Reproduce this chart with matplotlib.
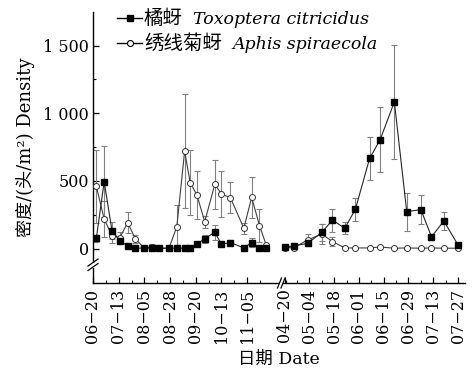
import matplotlib
matplotlib.use('Agg')
import matplotlib.pyplot as plt
from matplotlib.lines import Line2D
from matplotlib.patches import Rectangle
from datetime import date

plt.rcParams['font.family'] = ['DejaVu Serif', 'Noto Sans CJK SC']

# ---------------- data ----------------
dates_y1 = ['06-23', '06-30', '07-07', '07-14', '07-21', '07-28', '08-05', '08-12', '08-18',
            '08-27', '09-03', '09-10', '09-15', '09-21', '09-28', '10-07', '10-13', '10-21',
            '11-02', '11-09', '11-16', '11-22']
tc_y1 = [77, 495, 133, 59, 20, 5, 3, 3, 3, 3, 3, 3, 3, 32, 74, 121, 32, 45, 5, 45, 5, 5]
tc_y1_err = [25, 260, 60, 20, 8, 2, 1, 1, 1, 1, 1, 1, 1, 10, 30, 55, 15, 20, 5, 30, 5, 5]
as_y1 = [460, 219, 95, 81, 192, 71, 3, 15, 3, 3, 162, 720, 487, 396, 199, 475, 403, 376, 150, 379, 170, 27]
as_y1_err = [270, 130, 50, 40, 80, 30, 2, 20, 5, 2, 160, 420, 240, 180, 45, 180, 170, 115, 40, 150, 120, 10]

dates_y2 = ['04-20', '04-25', '05-03', '05-11', '05-17', '05-24', '05-30', '06-07', '06-13',
            '06-21', '06-28', '07-06', '07-12', '07-19', '07-27']
tc_y2 = [10, 20, 39, 120, 211, 150, 292, 666, 806, 1084, 273, 288, 88, 204, 27]
tc_y2_err = [3, 8, 15, 65, 85, 45, 85, 160, 240, 420, 140, 105, 20, 70, 5]
as_y2 = [7, 7, 64, 108, 52, 5, 5, 5, 12, 3, 5, 3, 5, 3, 3]
as_y2_err = [3, 3, 45, 75, 33, 3, 3, 3, 8, 2, 5, 2, 5, 2, 2]

ticks_y1 = ['06-20', '07-13', '08-05', '08-28', '09-20', '10-13', '11-05']
ticks_y2 = ['04-20', '05-04', '05-18', '06-01', '06-15', '06-29', '07-13', '07-27']

yticks = [0, 500, 1000, 1500]
ytick_labels = ['0', '500', '1 000', '1 500']

names_cn = ['橘蚜', '绣线菊蚜']
names_lat = ['Toxoptera citricidus', 'Aphis spiraecola']

# ---------------- broken date scale ----------------
S1 = 25.7 / 23.0      # axis units per day, first season
S2 = 24.76 / 14.0     # axis units per day, second season
X2 = 191.7            # start of second season on axis


def days(md, ref):
    m, d = map(int, md.split('-'))
    rm, rd = map(int, ref.split('-'))
    return (date(2001, m, d) - date(2001, rm, rd)).days


def pos1(md):
    return days(md, '06-20') * S1


def pos2(md):
    return X2 + days(md, '04-20') * S2


x1 = [pos1(d) for d in dates_y1]
x2 = [pos2(d) for d in dates_y2]

W, H = 475, 374
fig = plt.figure(figsize=(W / 100, H / 100), dpi=100)
ax = fig.add_axes([93 / W, 1 - 283 / H, 372 / W, (283 - 12) / H])

ecol = '0.5'
for xs, tc, tce, asv, ase in [(x1, tc_y1, tc_y1_err, as_y1, as_y1_err),
                               (x2, tc_y2, tc_y2_err, as_y2, as_y2_err)]:
    ax.errorbar(xs, asv, yerr=ase, fmt='none', ecolor=ecol, elinewidth=0.8,
                capsize=2.5, capthick=0.8, zorder=2)
    ax.errorbar(xs, tc, yerr=tce, fmt='none', ecolor=ecol, elinewidth=0.8,
                capsize=2.5, capthick=0.8, zorder=2)
    ax.plot(xs, asv, '-', color='0.25', lw=0.8, marker='o', ms=4.3,
            mfc='white', mec='0.2', mew=0.7, zorder=3)
    ax.plot(xs, tc, '-', color='0.15', lw=0.8, marker='s', ms=4.0,
            mfc='black', mec='black', zorder=4)

ax.set_xlim(0, 372)
ax.set_ylim(-254, 1748)

# x ticks
major = [pos1(d) for d in ticks_y1] + [pos2(d) for d in ticks_y2]
labels = [t.replace('-', '\u2212') for t in ticks_y1 + ticks_y2]
ax.set_xticks(major)
ax.set_xticklabels(labels, rotation=90, fontsize=11.5)
minor = [pos1('06-20') + (i + 0.5) * 23 * S1 for i in range(8)]
minor += [pos2('04-20') + (i + 0.5) * 14 * S2 for i in range(7)]
ax.set_xticks(minor, minor=True)

ax.set_yticks(yticks)
ax.set_yticklabels(ytick_labels, fontsize=11.5)
ax.set_yticks([250, 750, 1250], minor=True)

ax.tick_params(which='major', direction='in', length=4.5, width=0.9, pad=3)
ax.tick_params(which='minor', direction='in', length=2.5, width=0.8)
ax.tick_params(axis='x', which='major', pad=4)

for s in ['top', 'right']:
    ax.spines[s].set_visible(False)
for s in ['left', 'bottom']:
    ax.spines[s].set_linewidth(1.0)

ax.set_xlabel('日期 Date', fontsize=12.5, labelpad=6)
ax.set_ylabel('密度/(头/m\u00b2) Density', fontsize=13, labelpad=6)

# ---------------- manual legend ----------------
fig.canvas.draw()
inv = fig.transFigure.inverted()
renderer = fig.canvas.get_renderer()


def fx(px):
    return px / W


def fy(py_top):
    return 1 - py_top / H


styles = [dict(marker='s', ms=4.0, mfc='black', mec='black'),
          dict(marker='o', ms=4.3, mfc='white', mec='black', mew=0.8)]
rows_y = [18, 43]
for cn, lat, st, ry in zip(names_cn, names_lat, styles, rows_y):
    fig.add_artist(Line2D([fx(117), fx(142)], [fy(ry), fy(ry)], color='black', lw=1.0,
                          transform=fig.transFigure))
    fig.add_artist(Line2D([fx(129.5)], [fy(ry)], color='black', lw=0,
                          transform=fig.transFigure, **st))
    t = fig.text(fx(144), fy(ry), cn, fontsize=14, va='center', ha='left',
                 family=['Noto Sans CJK SC'])
    bb = t.get_window_extent(renderer)
    fig.text(fx(bb.x1 + 10), fy(ry) - 0.004, lat, fontsize=12.5, va='center', ha='left',
             style='italic', family=['DejaVu Serif'])

# ---------------- break marks ----------------


def figline(xs, ys, **kw):
    pts = inv.transform(list(zip(xs, ys)))
    fig.add_artist(Line2D(pts[:, 0], pts[:, 1], transform=fig.transFigure, **kw))


def figrect(x, y, w, h):
    p0 = inv.transform((x, y))
    p1 = inv.transform((x + w, y + h))
    fig.add_artist(Rectangle(p0, p1[0] - p0[0], p1[1] - p0[1], transform=fig.transFigure,
                             facecolor='white', edgecolor='none', zorder=10))


# y-axis break
bx, by = ax.transData.transform((0, -125))
figrect(bx - 3, by - 2, 6, 5)
for d in (0, 4.5):
    figline([bx - 5, bx + 5], [by - 5 + d, by + 2 + d], color='black', lw=0.9, zorder=11)

# x-axis break
cx, cy = ax.transData.transform((187, -254))
figrect(cx - 1, cy - 2, 3.5, 4)
for d in (0, 3.5):
    figline([cx - 2.5 + d, cx + 1.5 + d], [cy - 5, cy + 5], color='black', lw=0.9, zorder=11)

fig.savefig('out.png', dpi=100)
